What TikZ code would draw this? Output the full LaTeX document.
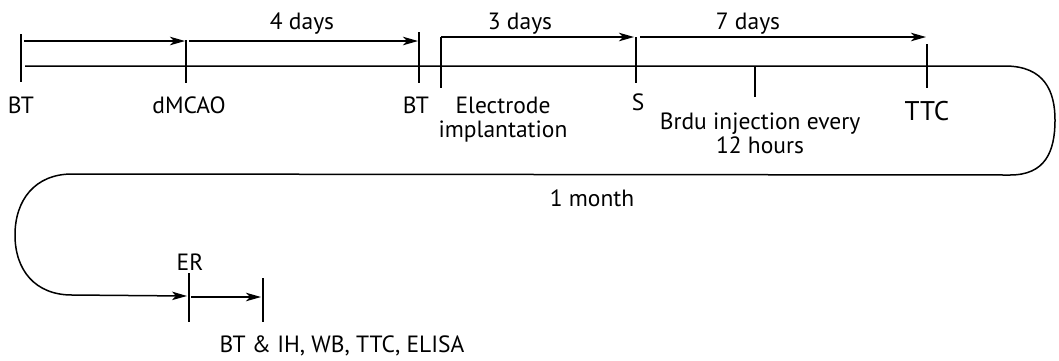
\documentclass[tikz,border=0pt]{standalone}
\usepackage{fontspec}
\setmainfont{PT Sans}
\usetikzlibrary{arrows.meta}
\begin{document}
\begin{tikzpicture}[x=1pt,y=-1pt,
  lbl/.style={inner sep=0pt,anchor=base,font=\fontsize{23.5}{24}\selectfont},
  tick/.style={line width=1.1pt},
  tl/.style={line width=1.5pt},
  arr/.style={line width=1.3pt,-{Stealth[length=15pt,width=8.5pt,inset=4pt]}}]
\useasboundingbox (0,0) rectangle (1059,360);
% tick coordinates
\coordinate (bt1t) at (21,34);  \coordinate (bt1b) at (21,82);
\coordinate (dmt) at (186,40);  \coordinate (dmb) at (186,83);
\coordinate (bt2t) at (419,32); \coordinate (bt2b) at (419,83);
\coordinate (elt) at (441,37);  \coordinate (elb) at (441,88);
\coordinate (st) at (636,37);   \coordinate (sb) at (636,83);
\coordinate (brt) at (755,66);  \coordinate (brb) at (755,97);
\coordinate (ttt) at (927,44);  \coordinate (ttb) at (927,88);
\coordinate (ert) at (189,273); \coordinate (erb) at (189,322);
\coordinate (ent) at (263,278); \coordinate (enb) at (263,322);
\foreach \a/\b in {bt1t/bt1b,dmt/dmb,bt2t/bt2b,elt/elb,st/sb,brt/brb,ttt/ttb,ert/erb,ent/enb}
  \draw[tick] (\a) -- (\b);
% main timeline
\coordinate (ms) at (25,66);
\coordinate (me) at (187,296);
\draw[tl,-{Stealth[length=15pt,width=8.5pt,inset=4pt]}] (ms) -- (1005,66)
  .. controls (1045,66) and (1055,92) .. (1055,120)
  .. controls (1055,152) and (1045,175) .. (1010,175)
  -- (72,174)
  .. controls (35,174) and (15,200) .. (15,235)
  .. controls (15,270) and (35,295) .. (72,295) -- (me);
% top arrows
\coordinate (a1s) at (24,41);  \coordinate (a1e) at (185,41);
\coordinate (a2s) at (189,41); \coordinate (a2e) at (418,41);
\coordinate (a3e) at (634,37);
\coordinate (a4s) at (640,37); \coordinate (a4e) at (926,37);
\coordinate (a5s) at (191,297);\coordinate (a5e) at (261,297);
\draw[arr] (a1s) -- (a1e);
\draw[arr] (a2s) -- (a2e);
\draw[arr] (elt) -- (a3e);
\draw[arr] (a4s) -- (a4e);
\draw[arr] (a5s) -- (a5e);
% labels
\node[lbl] (d4) at (302,29) {4 days};
\node[lbl] (d3) at (520,29) {3 days};
\node[lbl] (d7) at (748,29) {7 days};
\node[lbl] (lbt1) at (21,113) {BT};
\node[lbl] (ldm) at (189,113) {dMCAO};
\node[lbl] (lbt2) at (416,113) {BT};
\node[lbl,align=center] (lel) at (503,137) {Electrode\\implantation};
\node[lbl] (ls) at (638,110) {S};
\node[lbl,align=center] (lbr) at (760,153) {Brdu injection every\\12 hours};
\node[lbl,font=\fontsize{27}{28}\selectfont] (ltt) at (927,120) {TTC};
\node[lbl] (lmo) at (592,206) {1 month};
\node[lbl] (ler) at (190,270) {ER};
\node[lbl] (lend) at (342,352) {BT \& IH, WB, TTC, ELISA};
\end{tikzpicture}
\end{document}
